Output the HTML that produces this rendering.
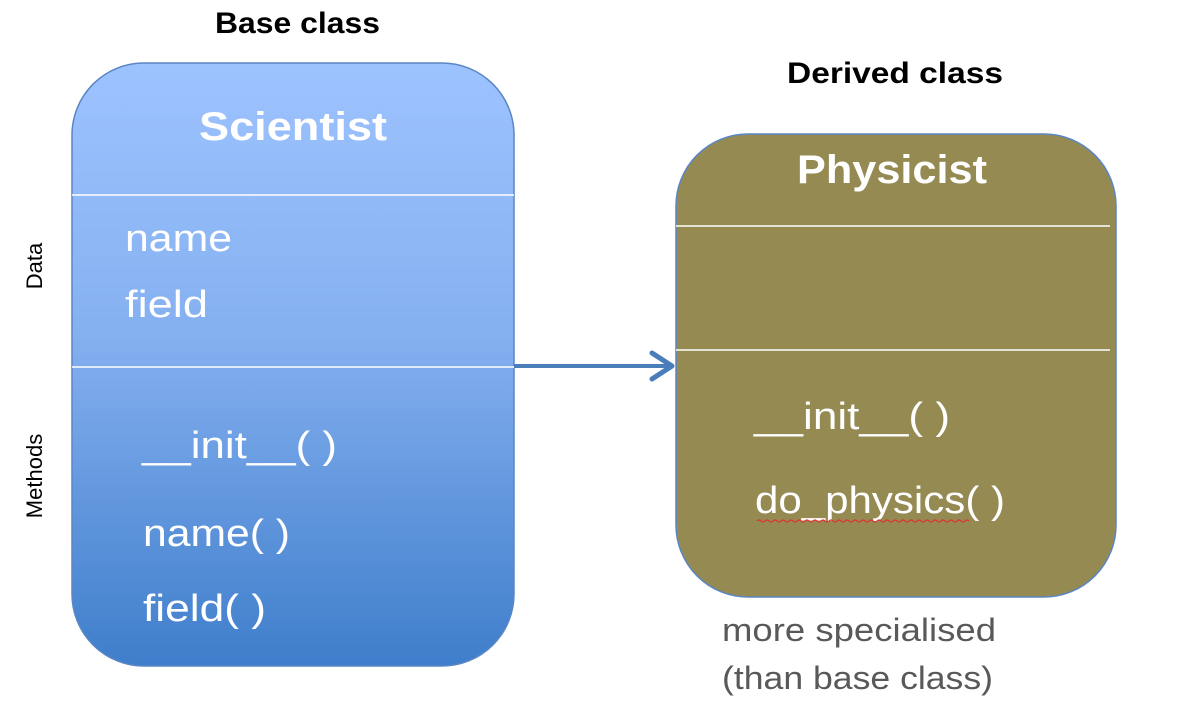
<!DOCTYPE html>
<html><head><meta charset="utf-8"><style>
html,body{margin:0;padding:0;background:#fff;width:1200px;height:714px;overflow:hidden}
text{font-family:"Liberation Sans",sans-serif}
</style></head><body>
<svg width="1200" height="714" viewBox="0 0 1200 714" xmlns="http://www.w3.org/2000/svg">
<defs>
<linearGradient id="g" x1="0" y1="0" x2="0" y2="1">
<stop offset="0" stop-color="#9dc3ff"/>
<stop offset="0.45" stop-color="#85b0f0"/>
<stop offset="1" stop-color="#3f7ecb"/>
</linearGradient>
</defs>
<text x="215" y="33" font-size="30" font-weight="bold" fill="#000" textLength="165" lengthAdjust="spacingAndGlyphs">Base class</text>
<text x="787" y="83" font-size="30" font-weight="bold" fill="#000" textLength="216" lengthAdjust="spacingAndGlyphs">Derived class</text>

<rect x="72" y="63" width="442" height="603" rx="72" ry="72" fill="url(#g)" stroke="#5a86c4" stroke-width="1.5"/>
<line x1="72" y1="195" x2="514" y2="195" stroke="#fff" stroke-width="1.5"/>
<line x1="72" y1="367" x2="514" y2="367" stroke="#fff" stroke-width="1.5"/>
<text x="293" y="140" font-size="40" font-weight="bold" text-anchor="middle" fill="#fff" textLength="188" lengthAdjust="spacingAndGlyphs">Scientist</text>
<g font-size="38" fill="#fff">
<text x="125" y="251" textLength="107" lengthAdjust="spacingAndGlyphs">name</text>
<text x="125" y="317" textLength="83" lengthAdjust="spacingAndGlyphs">field</text>
<text x="142" y="458" textLength="195" lengthAdjust="spacingAndGlyphs">__init__( )</text>
<text x="143" y="546" textLength="147" lengthAdjust="spacingAndGlyphs">name( )</text>
<text x="143" y="621" textLength="123" lengthAdjust="spacingAndGlyphs">field( )</text>
</g>
<text transform="translate(42,266) rotate(-90)" font-size="22" text-anchor="middle" fill="#000">Data</text>
<text transform="translate(42,476) rotate(-90)" font-size="22" text-anchor="middle" fill="#000">Methods</text>

<rect x="676" y="134" width="440" height="463" rx="72" ry="72" fill="#958a52" stroke="#5a86c4" stroke-width="1.5"/>
<line x1="676" y1="226" x2="1110" y2="226" stroke="#fff" stroke-width="1.5"/>
<line x1="676" y1="350" x2="1110" y2="350" stroke="#fff" stroke-width="1.5"/>
<text x="892" y="183" font-size="40" font-weight="bold" text-anchor="middle" fill="#fff" textLength="190" lengthAdjust="spacingAndGlyphs">Physicist</text>
<g font-size="38" fill="#fff">
<text x="754" y="429" textLength="196" lengthAdjust="spacingAndGlyphs">__init__( )</text>
<text x="755" y="513" textLength="250" lengthAdjust="spacingAndGlyphs">do_physics( )</text>
</g>
<path d="M757 521 q2 -2 4 0 t4 0 t4 0 t4 0 t4 0 t4 0 t4 0 t4 0 t4 0 t4 0 t4 0 t4 0 t4 0 t4 0 t4 0 t4 0 t4 0 t4 0 t4 0 t4 0 t4 0 t4 0 t4 0 t4 0 t4 0 t4 0 t4 0 t4 0 t4 0 t4 0 t4 0 t4 0 t4 0 t4 0 t4 0 t4 0 t4 0 t4 0 t4 0 t4 0 t4 0 t4 0 t4 0 t4 0 t4 0 t4 0 t4 0 t4 0 t4 0 t4 0 t4 0 t4 0 t4 0" fill="none" stroke="#e03030" stroke-width="1.2"/>

<line x1="514" y1="366" x2="670" y2="366" stroke="#4a7ebb" stroke-width="4"/>
<path d="M652 353 L672 366 L652 379" fill="none" stroke="#4a7ebb" stroke-width="5" stroke-linecap="round" stroke-linejoin="round"/>

<g font-size="32" fill="#595959">
<text x="722" y="641" textLength="274" lengthAdjust="spacingAndGlyphs">more specialised</text>
<text x="722" y="689" textLength="271" lengthAdjust="spacingAndGlyphs">(than base class)</text>
</g>
</svg>
</body></html>
